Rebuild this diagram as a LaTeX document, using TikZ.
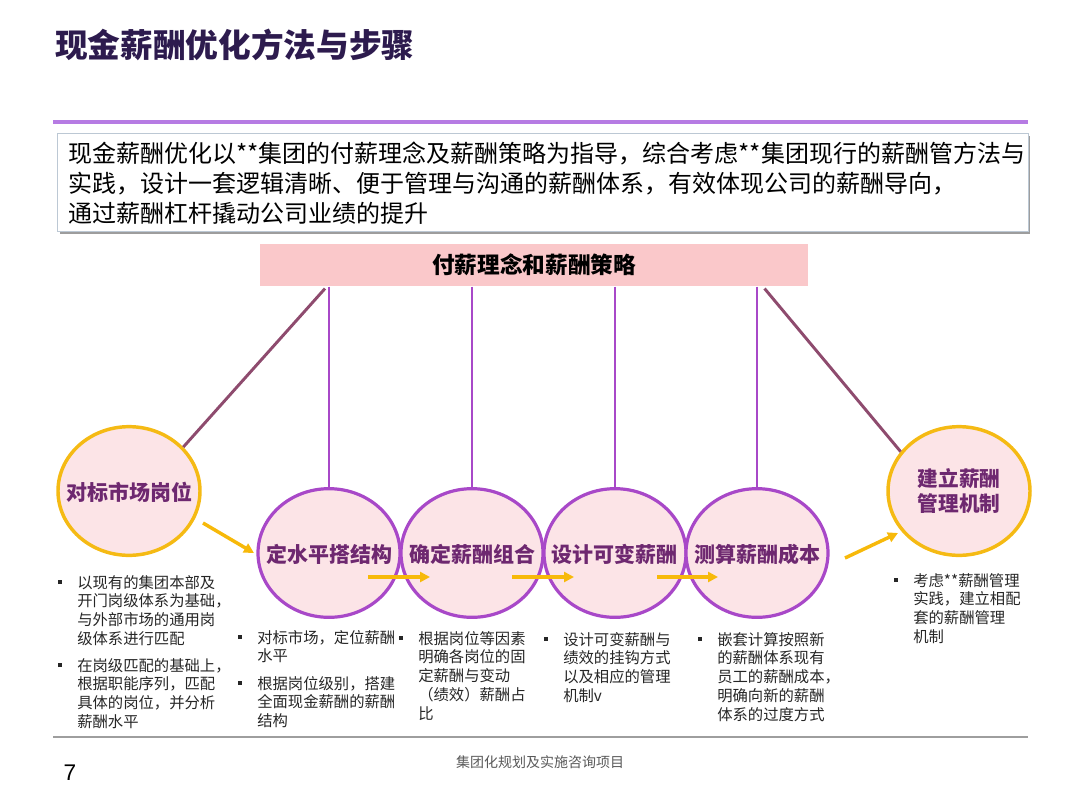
\documentclass[tikz,border=0pt]{standalone}
\usepackage{fontspec}
\setmainfont{Noto Sans CJK SC}
\newfontfamily\latinsans{Liberation Sans}
\usetikzlibrary{shapes.geometric,arrows.meta,calc,shadows}
\definecolor{titlec}{HTML}{2D1B4E}
\definecolor{purpline}{HTML}{B67BE3}
\definecolor{circpur}{HTML}{A848C8}
\definecolor{circfill}{HTML}{FCE4E7}
\definecolor{yel}{HTML}{F5BA14}
\definecolor{arrowc}{HTML}{F7B90A}
\definecolor{barfill}{HTML}{FAC8CA}
\definecolor{diagc}{HTML}{8E4B6E}
\definecolor{textpur}{HTML}{6E2870}
\definecolor{textg}{HTML}{262626}
\definecolor{boxb}{HTML}{BCC8D4}
\newcommand\bsq{\llap{\rule[2.9pt]{3pt}{3pt}\hspace{11.25pt}}}
\tikzset{
  circp/.style={ellipse, draw=circpur, line width=2.4pt, fill=circfill,
    minimum width=106.5pt, minimum height=96.5pt, inner sep=0pt},
  circy/.style={circp, draw=yel, line width=2.6pt},
  ctext/.style={font=\fontsize{15.75pt}{19pt}\selectfont\bfseries, text=textpur, inner sep=0pt, align=center},
  bul/.style={anchor=base west, align=left, inner sep=0pt, text=textg,
    font=\fontsize{11.5pt}{14.1pt}\selectfont},
  flowarrow/.style={draw=arrowc, line width=2.6pt, -{Triangle[length=7.5pt,width=7.5pt]}},
  vline/.style={draw=circpur, line width=2.2pt},
  dline/.style={draw=diagc, line width=2.2pt}
}
\begin{document}
\begin{tikzpicture}[x=0.75pt,y=-0.75pt]
\useasboundingbox (0,0) rectangle (1080,810);
% title
\node[anchor=base west, inner sep=0pt, text=titlec, font=\fontsize{24.5pt}{28pt}\selectfont\bfseries] (title) at (55,57) {现金薪酬优化方法与步骤};
\draw[purpline, line width=2.3pt] (53,122) -- (1028,122);
% intro box
\node[anchor=north west, draw=boxb, line width=0.8pt, fill=white, minimum width=728pt, minimum height=73.5pt, inner sep=0pt,
  drop shadow={shadow xshift=1.6pt, shadow yshift=-1.8pt, fill=black!55, opacity=0.7}] (intro) at (57,133) {};
\node[anchor=base west, align=left, inner sep=0pt, text=black, font=\fontsize{18pt}{22.5pt}\selectfont] (introtext) at (68,222)
  {现金薪酬优化以**集团的付薪理念及薪酬策略为指导，综合考虑**集团现行的薪酬管方法与\\
   实践，设计一套逻辑清晰、便于管理与沟通的薪酬体系，有效体现公司的薪酬导向，\\
   通过薪酬杠杆撬动公司业绩的提升};
% bar
\node[anchor=north west, fill=barfill, minimum width=411pt, minimum height=31.5pt, inner sep=0pt,
  font=\fontsize{17pt}{20pt}\selectfont\bfseries, text=black] (bar) at (260,244) {付薪理念和薪酬策略};
% circles
\node[circy] (c1) at (129,491) {};
\node[circp] (c2) at (329,553) {};
\node[circp] (c3) at (472,553) {};
\node[circp] (c4) at (615,553) {};
\node[circp] (c5) at (757,553) {};
\node[circy] (c6) at (959,491) {};
% connectors from bar
\draw[vline] (c2.north |- bar.south) -- (c2.north);
\draw[vline] (c3.north |- bar.south) -- (c3.north);
\draw[vline] (c4.north |- bar.south) -- (c4.north);
\draw[vline] (c5.north |- bar.south) -- (c5.north);
\draw[dline] ($(bar.south west)+(65,2)$) -- (c1.39);
\draw[dline] ($(bar.south east)+(-44,2)$) -- (c6.146);
% circle texts
\node[ctext] (t1) at (129,492) {对标市场岗位};
\node[ctext] (t2) at (329,554) {定水平搭结构};
\node[ctext] (t3) at (472,554) {确定薪酬组合};
\node[ctext] (t4) at (614,554) {设计可变薪酬};
\node[ctext] (t5) at (757,554) {测算薪酬成本};
\node[ctext, font=\fontsize{15.5pt}{19pt}\selectfont\bfseries] (t6) at (959,491) {建立薪酬\\管理机制};
% flow arrows
\coordinate (a1s) at (203,523); \coordinate (a1e) at (254,553);
\coordinate (a2s) at (368,577); \coordinate (a2e) at (430,577);
\coordinate (a3s) at (512,577); \coordinate (a3e) at (574,577);
\coordinate (a4s) at (657,577); \coordinate (a4e) at (718,577);
\coordinate (a5s) at (845,558); \coordinate (a5e) at (898,533);
\draw[flowarrow] (a1s) -- (a1e);
\draw[flowarrow] (a2s) -- (a2e);
\draw[flowarrow] (a3s) -- (a3e);
\draw[flowarrow] (a4s) -- (a4e);
\draw[flowarrow] (a5s) -- (a5e);
% bullet texts (anchor = baseline of last line)
\node[bul] (b1a) at (77,644.4) {\bsq 以现有的集团本部及\\开门岗级体系为基础，\\与外部市场的通用岗\\级体系进行匹配};
\node[bul] (b1b) at (77,727.4) {\bsq 在岗级匹配的基础上，\\根据职能序列，匹配\\具体的岗位，并分析\\薪酬水平};
\node[bul] (b2a) at (257,661.8) {\bsq 对标市场，定位薪酬\\水平};
\node[bul] (b2b) at (257,726.6) {\bsq 根据岗位级别，搭建\\全面现金薪酬的薪酬\\结构};
\node[bul] (b3) at (418,719.2) {\bsq 根据岗位等因素\\明确各岗位的固\\定薪酬与变动\\（绩效）薪酬占\\比};
\node[bul] (b4) at (563,701.4) {\bsq 设计可变薪酬与\\绩效的挂钩方式\\以及相应的管理\\机制v};
\node[bul] (b5) at (717,720.2) {\bsq 嵌套计算按照新\\的薪酬体系现有\\员工的薪酬成本，\\明确向新的薪酬\\体系的过度方式};
\node[bul] (b6) at (913,642.4) {\bsq 考虑**薪酬管理\\实践，建立相配\\套的薪酬管理\\机制};
% footer
\draw[black!38, line width=1.5pt] (53,737) -- (1028,737);
\node[inner sep=0pt, text=black!65, font=\fontsize{10.5pt}{12pt}\selectfont] (footer) at (540,762) {集团化规划及实施咨询项目};
\node[inner sep=0pt, text=black, font=\latinsans\fontsize{17pt}{20pt}\selectfont] (pagenum) at (70,773) {7};
\end{tikzpicture}
\end{document}
